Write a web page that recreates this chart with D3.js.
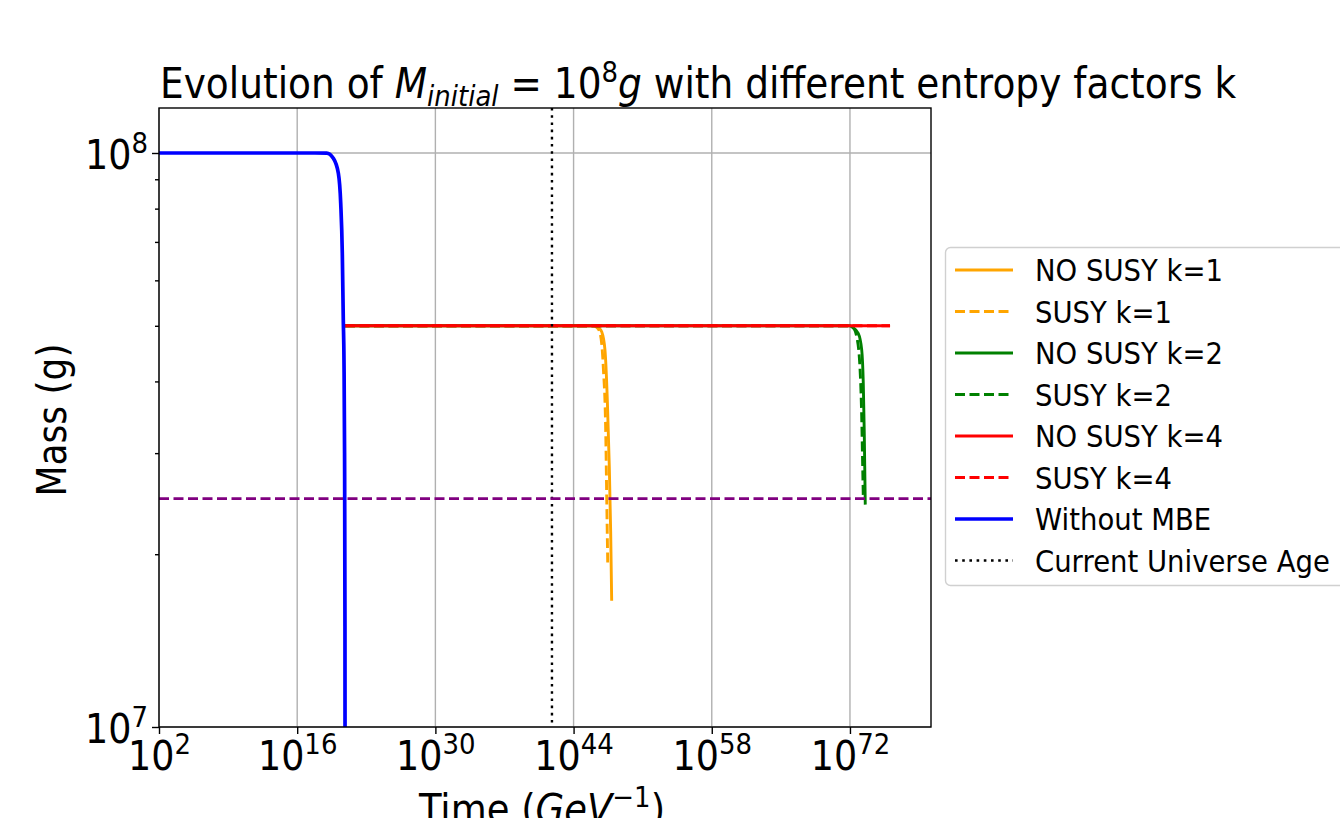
<!DOCTYPE html>
<html><head><meta charset="utf-8">
<script src="https://cdn.jsdelivr.net/npm/d3@7"></script>
<style>body{margin:0;background:#fff;} text{font-family:"DejaVu Sans",sans-serif;}</style>
</head><body><svg id="chart" width="1340" height="818"></svg>
<script>
// ---- data (time as log10 of GeV^-1, mass in grams) ----
const xTickExps = [2, 16, 30, 44, 58, 72];
const yTickExps = [7, 8];
const yMinor = [2e7, 3e7, 4e7, 5e7, 6e7, 7e7, 8e7, 9e7];

const blueLogT = [2, 17, 18.99, 19.66, 20.17, 20.41, 20.57, 20.67, 20.74, 20.80, 20.84, 20.86];
const blueMass = [1e8, 1e8, 0.9995e8, 9.79e7, 9.22e7, 8.17e7, 6.69e7, 5.12e7, 4.36e7, 3.0e7, 1.5e7, 5e6];

const orangeLogT = [20.84, 46.17, 46.5, 46.85, 47.18, 47.42, 47.62, 47.76, 47.86];
const orangeMass = [5e7, 5e7, 4.97e7, 4.88e7, 4.54e7, 3.71e7, 2.84e7, 2.18e7, 1.66e7];
const orangeDashLogT = [20.84, 46.0, 46.35, 46.68, 47.01, 47.26, 47.36, 47.46];
const orangeDashMass = [5e7, 5e7, 4.97e7, 4.86e7, 4.24e7, 3.25e7, 2.49e7, 1.93e7];

const greenLogT = [20.84, 72.0, 72.17, 72.84, 73.19, 73.35, 73.45, 73.52, 73.55];
const greenMass = [5e7, 5e7, 4.98e7, 4.85e7, 4.54e7, 3.97e7, 3.25e7, 2.66e7, 2.44e7];
const greenDashLogT = [20.84, 72.0, 72.3, 72.68, 73.01, 73.19, 73.29, 73.35];
const greenDashMass = [5e7, 5e7, 4.97e7, 4.79e7, 4.24e7, 3.47e7, 2.84e7, 2.52e7];

const redLogT = [20.84, 76.06];
const redMass = [5e7, 5e7];
const redDashLogT = [20.84, 76.06];
const redDashMass = [5e7, 5e7];

const universeAgeLogT = 41.81;
const thresholdMass = 2.5e7;

const legendLabels = ["NO SUSY k=1", "SUSY k=1", "NO SUSY k=2", "SUSY k=2", "NO SUSY k=4", "SUSY k=4", "Without MBE", "Current Universe Age"];

// ---- layout ----
const SY = 1.12; // vertical stretch of the reference's glyphs
const svg = d3.select("#chart");
svg.append("rect").attr("width", 1340).attr("height", 818).attr("fill", "#fff");
const L = 159, R = 931, T = 108, B = 727;
const x = d3.scaleLog().domain([1e2, Math.pow(10, 80.21)]).range([L, R]);
const y = d3.scaleLog().domain([1e7, Math.pow(10, 8.0784)]).range([B, T]);

svg.append("defs").append("clipPath").attr("id", "clip")
  .append("rect").attr("x", L).attr("y", T).attr("width", R - L).attr("height", B - T);

function stext(parent, px, py, size, anchor, rot) {
  const g = parent.append("g").attr("transform", `translate(${px},${py})` + (rot ? ` rotate(${rot})` : "") + ` scale(1,${SY})`);
  return g.append("text").attr("font-size", size).attr("fill", "#000").attr("text-anchor", anchor || "start");
}

// grid
const grid = svg.append("g");
xTickExps.forEach(e => grid.append("line").attr("x1", x(Math.pow(10, e))).attr("x2", x(Math.pow(10, e)))
  .attr("y1", T).attr("y2", B).attr("stroke", "#b0b0b0").attr("stroke-width", 1.4));
yTickExps.forEach(e => grid.append("line").attr("x1", L).attr("x2", R)
  .attr("y1", y(Math.pow(10, e))).attr("y2", y(Math.pow(10, e))).attr("stroke", "#b0b0b0").attr("stroke-width", 1.4));

const plot = svg.append("g").attr("clip-path", "url(#clip)");
const lineGen = d3.line().x(d => x(Math.pow(10, d[0]))).y(d => y(d[1])).curve(d3.curveMonotoneX);
function series(lt, m, color, dash, w) {
  plot.append("path").datum(lt.map((v, i) => [v, m[i]]))
    .attr("d", lineGen).attr("fill", "none").attr("stroke", color)
    .attr("stroke-width", w).attr("stroke-dasharray", dash);
}
const DASH = "10,4.5";
series(orangeLogT, orangeMass, "orange", null, 2.9);
series(orangeDashLogT, orangeDashMass, "orange", DASH, 2.9);
series(greenLogT, greenMass, "green", null, 2.9);
series(greenDashLogT, greenDashMass, "green", DASH, 2.9);
series(redLogT, redMass, "red", null, 2.9);
series(redDashLogT, redDashMass, "red", DASH, 2.9);
series(blueLogT, blueMass, "blue", null, 3.7);

// universe age
plot.append("line").attr("x1", x(Math.pow(10, universeAgeLogT))).attr("x2", x(Math.pow(10, universeAgeLogT)))
  .attr("y1", T).attr("y2", B).attr("stroke", "#000").attr("stroke-width", 2.4).attr("stroke-dasharray", "2.6,4.6");
// threshold
plot.append("line").attr("x1", L).attr("x2", R).attr("y1", y(thresholdMass)).attr("y2", y(thresholdMass))
  .attr("stroke", "purple").attr("stroke-width", 2.8).attr("stroke-dasharray", DASH);

// axes
const xAxis = d3.axisBottom(x).tickValues(xTickExps.map(e => Math.pow(10, e))).tickFormat(() => "").tickSize(7).tickSizeOuter(0);
const gx = svg.append("g").attr("transform", `translate(0,${B})`).call(xAxis);
const yAxis = d3.axisLeft(y).tickValues(yTickExps.map(e => Math.pow(10, e))).tickFormat(() => "").tickSize(7).tickSizeOuter(0);
const gy = svg.append("g").attr("transform", `translate(${L},0)`).call(yAxis);
const yAxisMinor = d3.axisLeft(y).tickValues(yMinor).tickFormat(() => "").tickSize(4).tickSizeOuter(0);
const gym = svg.append("g").attr("transform", `translate(${L},0)`).call(yAxisMinor);
[gx, gy, gym].forEach(g => { g.select(".domain").remove(); g.selectAll(".tick line").attr("stroke", "#000").attr("stroke-width", 1.4); });

// frame
svg.append("rect").attr("x", L).attr("y", T).attr("width", R - L).attr("height", B - T)
  .attr("fill", "none").attr("stroke", "#000").attr("stroke-width", 1.4);

// tick labels
const TF = 36.5, SF = 26;
gx.selectAll(".tick").each(function(d) {
  const t = stext(d3.select(this), 0, 43, TF, "middle");
  t.append("tspan").text("10");
  t.append("tspan").attr("font-size", SF).attr("dy", -14).text(String(Math.round(Math.log10(d))));
});
gy.selectAll(".tick").each(function(d) {
  const t = stext(d3.select(this), -11, 15, TF, "end");
  t.append("tspan").text("10");
  t.append("tspan").attr("font-size", SF).attr("dy", -14).text(String(Math.round(Math.log10(d))));
});

// title
const title = stext(svg, 160, 98, 37.5, "start");
title.append("tspan").text("Evolution of ");
title.append("tspan").attr("font-style", "italic").text("M");
title.append("tspan").attr("font-style", "italic").attr("font-size", 26).attr("dy", 7).text("initial");
title.append("tspan").attr("dy", -7).text(" = 10");
title.append("tspan").attr("font-size", 26).attr("dy", -14).text("8");
title.append("tspan").attr("font-style", "italic").attr("dy", 14).text("g");
title.append("tspan").text(" with different entropy factors k");

// axis labels
const xl = stext(svg, 542, 823, 37, "middle");
xl.append("tspan").text("Time (");
xl.append("tspan").attr("font-style", "italic").text("GeV");
xl.append("tspan").attr("font-size", 26).attr("dy", -14).text("−1");
xl.append("tspan").attr("dy", 14).text(")");
stext(svg, 66, 420, 36, "middle", -90).text("Mass (g)");

// legend
const lg = svg.append("g");
lg.append("rect").attr("x", 945.5).attr("y", 247.5).attr("width", 420).attr("height", 338).attr("rx", 5)
  .attr("fill", "#fff").attr("stroke", "#d0d0d0").attr("stroke-width", 1.4);
const legendStyles = [
  ["orange", null, 2.9], ["orange", DASH, 2.9], ["green", null, 2.9], ["green", DASH, 2.9],
  ["red", null, 2.9], ["red", DASH, 2.9], ["blue", null, 3.7], ["#000", "2.6,4.6", 2.4]
];
legendLabels.forEach((lab, i) => {
  const yy = 270 + i * 41.5;
  lg.append("line").attr("x1", 955).attr("x2", 1013).attr("y1", yy).attr("y2", yy)
    .attr("stroke", legendStyles[i][0]).attr("stroke-width", legendStyles[i][2]).attr("stroke-dasharray", legendStyles[i][1]);
  stext(lg, 1035, yy + 11, 27.5, "start").text(lab);
});
</script></body></html>
